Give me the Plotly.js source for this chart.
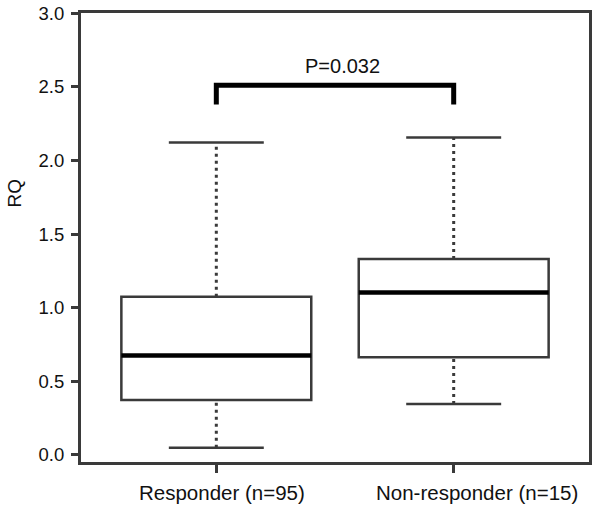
<!DOCTYPE html>
<html>
<head>
<meta charset="utf-8">
<script src="https://cdn.plot.ly/plotly-3.0.1.min.js"></script>
<style>
  body { margin: 0; background: #fff; }
  #chart { width: 602px; height: 509px; }
</style>
</head>
<body>
<div id="chart"></div>
<script>
// values
var groups = ["Responder (n=95)", "Non-responder (n=15)"];
var lowerWhisker = [0.05, 0.346];
var q1 = [0.374, 0.664];
var median = [0.676, 1.104];
var q3 = [1.074, 1.331];
var upperWhisker = [2.123, 2.157];

var pText = "P=0.032";
var bracketTop = 2.512;
var bracketFoot = 2.38;
var pLabelY = 2.64;

var boxW = 0.8;
var capHalf = 0.2;
// the category labels sit a little right of their ticks in the original
var labelShift = [0.025, 0.1];
var lineCol = "#3a3a3a";
var textCol = "#111111";
var fontFam = "Liberation Sans, Arial, sans-serif";

var data = [];

// boxes (no whiskers here, they are drawn dotted below)
for (var i = 0; i < groups.length; i++) {
  data.push({
    type: "box",
    x: [i],
    q1: [q1[i]],
    median: [median[i]],
    q3: [q3[i]],
    lowerfence: [q1[i]],
    upperfence: [q3[i]],
    width: boxW,
    whiskerwidth: 0,
    fillcolor: "#ffffff",
    line: { color: lineCol, width: 2.5 },
    hoverinfo: "skip",
    showlegend: false,
  });
}

for (var i = 0; i < groups.length; i++) {
  // dotted whiskers
  data.push({
    x: [i, i], y: [q3[i], upperWhisker[i]],
    mode: "lines", line: { color: lineCol, width: 3, dash: "3px,4px" },
    hoverinfo: "skip", showlegend: false,
  });
  data.push({
    x: [i, i], y: [lowerWhisker[i], q1[i]],
    mode: "lines", line: { color: lineCol, width: 3, dash: "3px,4px" },
    hoverinfo: "skip", showlegend: false,
  });
  // caps
  data.push({
    x: [i - capHalf, i + capHalf], y: [upperWhisker[i], upperWhisker[i]],
    mode: "lines", line: { color: lineCol, width: 2.5 },
    hoverinfo: "skip", showlegend: false,
  });
  data.push({
    x: [i - capHalf, i + capHalf], y: [lowerWhisker[i], lowerWhisker[i]],
    mode: "lines", line: { color: lineCol, width: 2.5 },
    hoverinfo: "skip", showlegend: false,
  });
  // thick median
  data.push({
    x: [i - boxW / 2, i + boxW / 2], y: [median[i], median[i]],
    mode: "lines", line: { color: "#000000", width: 4.5 },
    hoverinfo: "skip", showlegend: false,
  });
}

// significance bracket
data.push({
  x: [0, 0, 1, 1],
  y: [bracketFoot, bracketTop, bracketTop, bracketFoot],
  mode: "lines",
  line: { color: "#000000", width: 5 },
  hoverinfo: "skip",
  showlegend: false,
});

var annos = [
  {
    x: 0.53, y: pLabelY, xref: "x", yref: "y",
    text: pText, showarrow: false,
    font: { size: 20, family: fontFam, color: textCol },
  },
  {
    x: -0.131, y: 0.599, xref: "paper", yref: "paper",
    text: "RQ", showarrow: false, textangle: -90,
    xanchor: "center", yanchor: "middle",
    font: { size: 19, family: fontFam, color: textCol },
  },
];
for (var i = 0; i < groups.length; i++) {
  annos.push({
    x: i + labelShift[i], y: -0.069, xref: "x", yref: "paper",
    text: groups[i], showarrow: false,
    xanchor: "center", yanchor: "middle",
    font: { size: 20.5, family: fontFam, color: textCol },
  });
}

var layout = {
  width: 602,
  height: 509,
  margin: { l: 81, r: 13, t: 13, b: 47 },
  paper_bgcolor: "#ffffff",
  plot_bgcolor: "#ffffff",
  showlegend: false,
  font: { family: fontFam, color: textCol },
  xaxis: {
    range: [-0.57, 1.57],
    tickvals: [0, 1],
    showticklabels: false,
    ticks: "outside",
    ticklen: 8,
    tickwidth: 3,
    tickcolor: lineCol,
    showgrid: false,
    zeroline: false,
    showline: true,
    mirror: true,
    linecolor: lineCol,
    linewidth: 3,
    fixedrange: true,
  },
  yaxis: {
    range: [-0.0476, 3.002],
    tick0: 0,
    dtick: 0.5,
    tickformat: ".1f",
    ticks: "outside",
    ticklen: 7,
    tickwidth: 3,
    tickcolor: lineCol,
    ticklabelstandoff: 3,
    tickfont: { size: 18.5, family: fontFam, color: textCol },
    showgrid: false,
    zeroline: false,
    showline: true,
    mirror: true,
    linecolor: lineCol,
    linewidth: 3,
    fixedrange: true,
  },
  annotations: annos,
};

Plotly.newPlot("chart", data, layout, { displayModeBar: false, staticPlot: true });
</script>
</body>
</html>
